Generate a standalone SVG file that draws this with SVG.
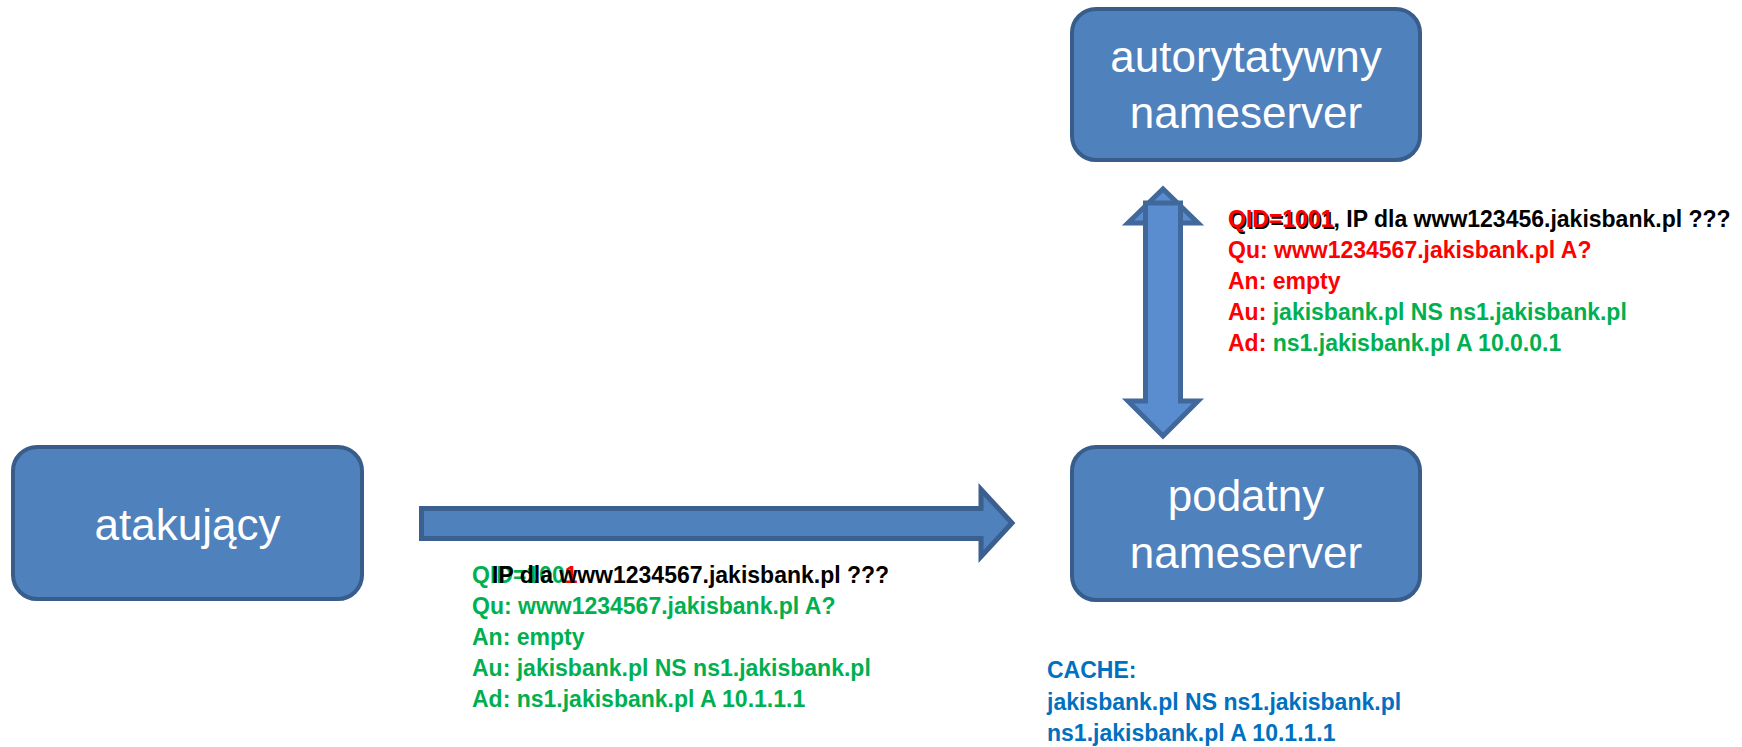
<svg xmlns="http://www.w3.org/2000/svg" width="1742" height="747" viewBox="0 0 1742 747">
  <style>
    .box { fill: #4f81bd; stroke: #385d8a; stroke-width: 4; }
    .lbl { font-family: "Liberation Sans", Arial, sans-serif; font-size: 44px; fill: #ffffff; text-anchor: middle; }
    .msg { font-family: "Liberation Sans", Arial, sans-serif; font-size: 23px; font-weight: bold; }
    .g { fill: #00b050; }
    .r { fill: #ff0000; }
    .k { fill: #000000; }
    .b { fill: #0070c0; }
    .harrow { fill: #4f81bd; stroke: #3b5f8f; stroke-width: 5; stroke-linejoin: miter; }
    .varrow { fill: #5a8dcf; stroke: #41689b; stroke-width: 5; stroke-linejoin: miter; }
  </style>
  <rect width="1742" height="747" fill="#ffffff"/>

  <!-- connectors -->
  <g id="connectors">
    <!-- query from attacker to the vulnerable resolver -->
    <path class="harrow" d="M421.5,508.5 H981 V489.5 L1012,523 L981,556.5 V538.5 H421.5 Z"/>
    <!-- exchange between resolver and authoritative server -->
    <path class="varrow" d="M1145.5,223 H1128 L1163,189 L1198,223 H1180.5 V401 H1198 L1163,436 L1128,401 H1145.5 Z"/>
    <path class="varrow" d="M1145.5,236 V203 H1180.5 V236"/>
  </g>

  <!-- authoritative nameserver -->
  <g id="node-authoritative">
    <rect class="box" x="1072" y="9" width="348" height="151" rx="24" ry="24"/>
    <text class="lbl" x="1246" y="72">autorytatywny</text>
    <text class="lbl" x="1246" y="128">nameserver</text>
  </g>

  <!-- vulnerable nameserver -->
  <g id="node-vulnerable">
    <rect class="box" x="1072" y="447" width="348" height="153" rx="24" ry="24"/>
    <text class="lbl" x="1246" y="511">podatny</text>
    <text class="lbl" x="1246" y="568">nameserver</text>
  </g>

  <!-- attacker -->
  <g id="node-attacker">
    <rect class="box" x="13" y="447" width="349" height="152" rx="24" ry="24"/>
    <text class="lbl" x="187.5" y="540">atakujący</text>
  </g>

  <!-- upstream reply -->
  <g id="reply-authoritative" class="msg">
    <text x="1229.5" y="228.5" class="k">QID=1001</text>
    <text x="1228" y="227"><tspan class="r">QID=1001</tspan><tspan class="k">, IP dla www123456.jakisbank.pl ???</tspan></text>
    <text x="1228" y="258"><tspan class="r">Qu: www1234567.jakisbank.pl A?</tspan></text>
    <text x="1228" y="289"><tspan class="r">An: empty</tspan></text>
    <text x="1228" y="320"><tspan class="r">Au: </tspan><tspan class="g">jakisbank.pl NS ns1.jakisbank.pl</tspan></text>
    <text x="1228" y="351"><tspan class="r">Ad: </tspan><tspan class="g">ns1.jakisbank.pl A 10.0.0.1</tspan></text>
  </g>

  <!-- forged reply -->
  <g id="reply-forged" class="msg">
    <text x="472" y="583"><tspan class="g">QID=100</tspan><tspan class="r">1</tspan></text>
    <text x="492" y="583" class="k">IP dla www1234567.jakisbank.pl ???</text>
    <text x="472" y="614" class="g">Qu: www1234567.jakisbank.pl A?</text>
    <text x="472" y="645" class="g">An: empty</text>
    <text x="472" y="676" class="g">Au: jakisbank.pl NS ns1.jakisbank.pl</text>
    <text x="472" y="707" class="g">Ad: ns1.jakisbank.pl A 10.1.1.1</text>
  </g>

  <!-- resolver cache -->
  <g id="cache" class="msg b">
    <text x="1047" y="678">CACHE:</text>
    <text x="1047" y="710">jakisbank.pl NS ns1.jakisbank.pl</text>
    <text x="1047" y="741">ns1.jakisbank.pl A 10.1.1.1</text>
  </g>
</svg>
